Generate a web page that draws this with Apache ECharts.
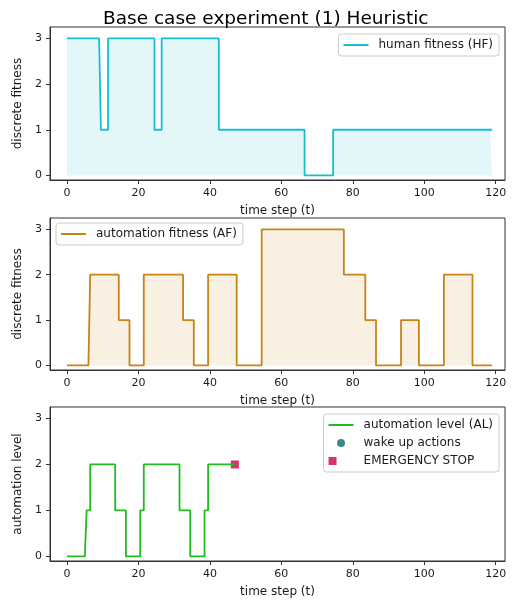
<!DOCTYPE html>
<html>
<head>
<meta charset="utf-8">
<script src="https://cdn.jsdelivr.net/npm/echarts@6/dist/echarts.min.js"></script>
<style>
  html, body { margin: 0; padding: 0; background: #fff; }
  #chart { width: 514px; height: 602px; }
</style>
</head>
<body>
<div id="chart"></div>
<script>
// values per time step t = 0, 1, 2, ...
var humanFitness = [
  3,3,3,3,3,3,3,3,3,3, 1,1, 3,3,3,3,3,3,3,3,3,3,3,3,3, 1,1,
  3,3,3,3,3,3,3,3,3,3,3,3,3,3,3,3,
  1,1,1,1,1,1,1,1,1,1,1,1,1,1,1,1,1,1,1,1,1,1,1,1,
  0,0,0,0,0,0,0,0,
  1,1,1,1,1,1,1,1,1,1,1,1,1,1,1,1,1,1,1,1,1,1,1,1,1,1,1,1,1,1,1,1,1,1,1,1,1,1,1,1,1,1,1,1,1
];
var automationFitness = [
  0,0,0,0,0,0,0, 2,2,2,2,2,2,2,2, 1,1,1, 0,0,0,0,
  2,2,2,2,2,2,2,2,2,2,2, 1,1,1, 0,0,0,0, 2,2,2,2,2,2,2,2,
  0,0,0,0,0,0,0, 3,3,3,3,3,3,3,3,3,3,3,3,3,3,3,3,3,3,3,3,3,3,3,
  2,2,2,2,2,2, 1,1,1, 0,0,0,0,0,0,0, 1,1,1,1,1, 0,0,0,0,0,0,0,
  2,2,2,2,2,2,2,2, 0,0,0,0,0,0
];
var automationLevel = [
  0,0,0,0,0,0, 1, 2,2,2,2,2,2,2, 1,1,1, 0,0,0,0, 1,
  2,2,2,2,2,2,2,2,2,2, 1,1,1, 0,0,0,0, 1, 2,2,2,2,2,2,2,2
];
var wakeUpActions = [];
var emergencyStop = [[47, 2]];
var xTicks = [0, 20, 40, 60, 80, 100, 120];
var yTicks = [0, 1, 2, 3];

function toPoints(arr) {
  return arr.map(function (v, i) { return [i, v]; });
}

var txt = '#1a1a1a';
var spine = '#333';
var tops = [27, 218, 407];
var heights = [153, 152, 154];

function makeX(i) {
  return {
    type: 'value', gridIndex: i, min: -4.75, max: 122.6,
    name: 'time step (t)', nameLocation: 'middle', nameGap: 25,
    nameTextStyle: { fontFamily: 'DejaVu Sans', fontSize: 12, color: txt },
    axisLine: { onZero: false, lineStyle: { color: spine, width: 1 } },
    axisTick: { customValues: xTicks, length: 4, lineStyle: { color: spine } },
    axisLabel: { customValues: xTicks, margin: 8, fontFamily: 'DejaVu Sans', fontSize: 11, color: txt },
    splitLine: { show: false }
  };
}
function makeY(i, name) {
  return {
    type: 'value', gridIndex: i, min: -0.1, max: 3.25,
    name: name, nameLocation: 'middle', nameGap: 20, nameRotate: 90,
    nameTextStyle: { fontFamily: 'DejaVu Sans', fontSize: 12, color: txt },
    axisLine: { onZero: false, lineStyle: { color: spine, width: 1 } },
    axisTick: { customValues: yTicks, length: 4, lineStyle: { color: spine } },
    axisLabel: { customValues: yTicks, margin: 8, fontFamily: 'DejaVu Sans', fontSize: 11, color: txt },
    splitLine: { show: false }
  };
}
var legendBase = {
  orient: 'vertical', itemWidth: 25, itemHeight: 8, itemGap: 6,
  padding: [5, 6, 5, 4],
  borderColor: '#cccccc', borderWidth: 1, borderRadius: 3,
  backgroundColor: 'rgba(255,255,255,0.8)',
  textStyle: { fontFamily: 'DejaVu Sans', fontSize: 12, color: txt, padding: [0, 0, 0, 5] }
};
// line entries: show the line only, hide the middle marker
function lineItem(name) {
  return { name: name, itemStyle: { opacity: 0 } };
}

var option = {
  animation: false,
  backgroundColor: '#fff',
  title: {
    text: 'Base case experiment (1) Heuristic',
    left: 98, top: 5,
    textStyle: { fontFamily: 'DejaVu Sans', fontSize: 18.5, fontWeight: 'normal', color: '#000' }
  },
  grid: [0, 1, 2].map(function (i) {
    return { left: 50, right: 9, top: tops[i], height: heights[i], show: true,
      borderColor: spine, borderWidth: 1, backgroundColor: 'transparent' };
  }),
  xAxis: [makeX(0), makeX(1), makeX(2)],
  yAxis: [makeY(0, 'discrete fitness'), makeY(1, 'discrete fitness'), makeY(2, 'automation level')],
  legend: [
    Object.assign({}, legendBase, { right: 15, top: 34, data: [lineItem('human fitness (HF)')] }),
    Object.assign({}, legendBase, { left: 56, top: 223, data: [lineItem('automation fitness (AF)')] }),
    Object.assign({}, legendBase, { right: 15, top: 414,
      data: [lineItem('automation level (AL)'), { name: 'wake up actions', icon: 'circle' }, { name: 'EMERGENCY STOP', icon: 'square' }] })
  ],
  series: [
    {
      name: 'human fitness (HF)', type: 'line', xAxisIndex: 0, yAxisIndex: 0,
      data: toPoints(humanFitness), step: 'middle', symbol: 'none',
      lineStyle: { color: '#17becf', width: 1.8 }, itemStyle: { color: '#17becf' },
      areaStyle: { color: '#17becf', opacity: 0.12 }
    },
    {
      name: 'automation fitness (AF)', type: 'line', xAxisIndex: 1, yAxisIndex: 1,
      data: toPoints(automationFitness), step: 'middle', symbol: 'none',
      lineStyle: { color: '#c98317', width: 1.8 }, itemStyle: { color: '#c98317' },
      areaStyle: { color: '#c98317', opacity: 0.12 }
    },
    {
      name: 'automation level (AL)', type: 'line', xAxisIndex: 2, yAxisIndex: 2,
      data: toPoints(automationLevel), step: 'middle', symbol: 'none',
      lineStyle: { color: '#22bb22', width: 1.8 }, itemStyle: { color: '#22bb22' }
    },
    {
      name: 'wake up actions', type: 'scatter', xAxisIndex: 2, yAxisIndex: 2,
      data: wakeUpActions, symbol: 'circle', symbolSize: 8,
      itemStyle: { color: '#0b6b6b' }
    },
    {
      name: 'EMERGENCY STOP', type: 'scatter', xAxisIndex: 2, yAxisIndex: 2,
      data: emergencyStop, symbol: 'rect', symbolSize: 8,
      itemStyle: { color: '#cc0052' }
    }
  ]
};

var chart = echarts.init(document.getElementById('chart'), null, { renderer: 'canvas' });
chart.setOption(option);
</script>
</body>
</html>
